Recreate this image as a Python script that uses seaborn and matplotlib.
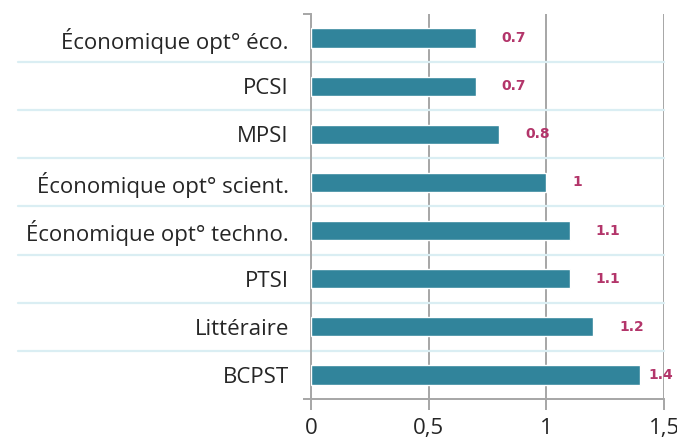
import matplotlib
matplotlib.use("Agg")
import matplotlib.pyplot as plt
import seaborn as sns
import pandas as pd
import numpy as np

# Data (top to bottom)
categories = ["Économique opt° éco.", "PCSI", "MPSI", "Économique opt° scient.",
              "Économique opt° techno.", "PTSI", "Littéraire", "BCPST"]
values = [0.7, 0.7, 0.8, 1.0, 1.1, 1.1, 1.2, 1.4]
value_labels = ["0.7", "0.7", "0.8", "1", "1.1", "1.1", "1.2", "1.4"]
x_ticks = [0, 0.5, 1, 1.5]
x_tick_labels = ["0", "0,5", "1", "1,5"]

df = pd.DataFrame({"filiere": categories, "valeur": values})

sns.set_style("white")
plt.rcParams["font.family"] = ["Open Sans", "DejaVu Sans"]

fig = plt.figure(figsize=(6.77, 4.41), dpi=100)
ax = fig.add_axes([0.4594, 0.0952, 0.5214, 0.8731])

bar_color = "#31849B"
label_color = "#B3356A"
grid_color = "#A6A6A6"
sep_color = "#DAEEF3"

ax.set_axisbelow(True)
ax.grid(axis="x", color=grid_color, linewidth=1.4)
sns.barplot(data=df, x="valeur", y="filiere", color=bar_color, saturation=1,
            width=0.4, ax=ax, zorder=3)

ax.set_xlim(0, 1.5)
ax.set_ylim(len(categories) - 0.5, -0.5)

# separators between categories, reaching into the label area
for b in np.arange(0.5, len(categories) - 0.5, 1):
    ax.axhline(b, xmin=-0.83, xmax=1, color=sep_color, linewidth=1.6,
               clip_on=False, zorder=1)

# value labels, kept inside the figure
for i, (v, t) in enumerate(zip(values, value_labels)):
    ax.text(min(v + 0.11, 1.435), i, t, va="center", ha="left", color=label_color,
            fontsize=10, fontweight="bold", family="DejaVu Sans", zorder=4)

ax.set_xticks(x_ticks)
ax.set_xticklabels(x_tick_labels, fontsize=16)
ax.set_yticks(range(len(categories)))
ax.set_yticklabels(categories, fontsize=16)
ax.set_yticks(np.arange(-0.5, len(categories), 1), minor=True)

ax.tick_params(axis="x", length=8, width=1.4, color=grid_color, pad=6, bottom=True)
ax.tick_params(axis="y", which="major", length=0, pad=16)
ax.tick_params(axis="y", which="minor", length=6, width=1.4, color=grid_color, left=True)

ax.set_xlabel("")
ax.set_ylabel("")
for s in ["top", "right"]:
    ax.spines[s].set_visible(False)
for s in ["left", "bottom"]:
    ax.spines[s].set_color(grid_color)
    ax.spines[s].set_linewidth(1.4)

fig.savefig("out.png", dpi=100)
